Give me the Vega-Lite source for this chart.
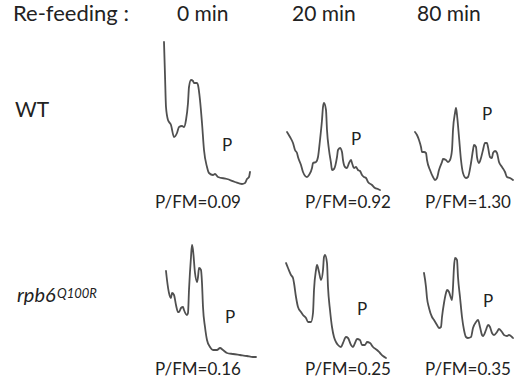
{
  "$schema": "https://vega.github.io/schema/vega-lite/v6.json",
  "autosize": {"type": "fit", "contains": "padding"},
  "width": 515,
  "height": 386,
  "padding": 0,
  "background": "white",
  "config": {"view": {"stroke": null}},
  "datasets": {
    "traces": [
      {"p":"WT0","x":164,"y":42},{"p":"WT0","x":165,"y":75},{"p":"WT0","x":166,"y":107},{"p":"WT0","x":168,"y":120},{"p":"WT0","x":171,"y":125},{"p":"WT0","x":174,"y":137},{"p":"WT0","x":177,"y":133},{"p":"WT0","x":179,"y":127},{"p":"WT0","x":182,"y":126},{"p":"WT0","x":184,"y":127},{"p":"WT0","x":186,"y":120},{"p":"WT0","x":188,"y":103},{"p":"WT0","x":189,"y":87},{"p":"WT0","x":191,"y":80},{"p":"WT0","x":193,"y":81},{"p":"WT0","x":194,"y":83},{"p":"WT0","x":197,"y":83},{"p":"WT0","x":198,"y":85},{"p":"WT0","x":200,"y":100},{"p":"WT0","x":202,"y":123},{"p":"WT0","x":204,"y":150},{"p":"WT0","x":207,"y":167},{"p":"WT0","x":209,"y":173},{"p":"WT0","x":213,"y":175},{"p":"WT0","x":215,"y":174},{"p":"WT0","x":218,"y":177},{"p":"WT0","x":227,"y":179},{"p":"WT0","x":235,"y":182},{"p":"WT0","x":242,"y":184},{"p":"WT0","x":245,"y":183},{"p":"WT0","x":247,"y":179},{"p":"WT0","x":249,"y":177},{"p":"WT0","x":250,"y":172},
      {"p":"WT20","x":287,"y":132},{"p":"WT20","x":290,"y":137},{"p":"WT20","x":293,"y":143},{"p":"WT20","x":295,"y":150},{"p":"WT20","x":297,"y":153},{"p":"WT20","x":298,"y":157},{"p":"WT20","x":301,"y":165},{"p":"WT20","x":303,"y":172},{"p":"WT20","x":307,"y":177},{"p":"WT20","x":309,"y":175},{"p":"WT20","x":312,"y":168},{"p":"WT20","x":313,"y":163},{"p":"WT20","x":316,"y":162},{"p":"WT20","x":318,"y":157},{"p":"WT20","x":320,"y":140},{"p":"WT20","x":322,"y":120},{"p":"WT20","x":323,"y":107},{"p":"WT20","x":324,"y":103},{"p":"WT20","x":326,"y":110},{"p":"WT20","x":327,"y":130},{"p":"WT20","x":329,"y":150},{"p":"WT20","x":331,"y":163},{"p":"WT20","x":332,"y":170},{"p":"WT20","x":334,"y":169},{"p":"WT20","x":337,"y":157},{"p":"WT20","x":338,"y":150},{"p":"WT20","x":340,"y":148},{"p":"WT20","x":342,"y":152},{"p":"WT20","x":343,"y":160},{"p":"WT20","x":345,"y":167},{"p":"WT20","x":347,"y":168},{"p":"WT20","x":349,"y":163},{"p":"WT20","x":351,"y":160},{"p":"WT20","x":352,"y":163},{"p":"WT20","x":354,"y":168},{"p":"WT20","x":356,"y":167},{"p":"WT20","x":358,"y":170},{"p":"WT20","x":360,"y":171},{"p":"WT20","x":362,"y":175},{"p":"WT20","x":364,"y":177},{"p":"WT20","x":366,"y":178},{"p":"WT20","x":368,"y":182},{"p":"WT20","x":372,"y":185},{"p":"WT20","x":375,"y":188},{"p":"WT20","x":378,"y":189},{"p":"WT20","x":380,"y":190},
      {"p":"WT80","x":415,"y":132},{"p":"WT80","x":417,"y":135},{"p":"WT80","x":419,"y":140},{"p":"WT80","x":421,"y":147},{"p":"WT80","x":422,"y":152},{"p":"WT80","x":424,"y":152},{"p":"WT80","x":426,"y":153},{"p":"WT80","x":427,"y":160},{"p":"WT80","x":430,"y":170},{"p":"WT80","x":433,"y":177},{"p":"WT80","x":435,"y":180},{"p":"WT80","x":437,"y":178},{"p":"WT80","x":439,"y":170},{"p":"WT80","x":442,"y":162},{"p":"WT80","x":443,"y":159},{"p":"WT80","x":446,"y":160},{"p":"WT80","x":448,"y":162},{"p":"WT80","x":450,"y":160},{"p":"WT80","x":452,"y":150},{"p":"WT80","x":453,"y":130},{"p":"WT80","x":455,"y":113},{"p":"WT80","x":456,"y":108},{"p":"WT80","x":457,"y":115},{"p":"WT80","x":459,"y":137},{"p":"WT80","x":461,"y":160},{"p":"WT80","x":463,"y":173},{"p":"WT80","x":466,"y":178},{"p":"WT80","x":468,"y":177},{"p":"WT80","x":471,"y":163},{"p":"WT80","x":473,"y":150},{"p":"WT80","x":474,"y":145},{"p":"WT80","x":476,"y":147},{"p":"WT80","x":477,"y":157},{"p":"WT80","x":479,"y":163},{"p":"WT80","x":481,"y":158},{"p":"WT80","x":483,"y":150},{"p":"WT80","x":485,"y":143},{"p":"WT80","x":487,"y":143},{"p":"WT80","x":488,"y":147},{"p":"WT80","x":490,"y":157},{"p":"WT80","x":492,"y":158},{"p":"WT80","x":493,"y":153},{"p":"WT80","x":495,"y":151},{"p":"WT80","x":497,"y":153},{"p":"WT80","x":499,"y":162},{"p":"WT80","x":502,"y":167},{"p":"WT80","x":505,"y":172},{"p":"WT80","x":507,"y":177},{"p":"WT80","x":510,"y":178},{"p":"WT80","x":513,"y":180},
      {"p":"R0","x":166,"y":271},{"p":"R0","x":167,"y":280},{"p":"R0","x":169,"y":293},{"p":"R0","x":171,"y":298},{"p":"R0","x":172,"y":293},{"p":"R0","x":174,"y":295},{"p":"R0","x":176,"y":305},{"p":"R0","x":178,"y":312},{"p":"R0","x":179,"y":312},{"p":"R0","x":181,"y":308},{"p":"R0","x":183,"y":307},{"p":"R0","x":184,"y":310},{"p":"R0","x":187,"y":315},{"p":"R0","x":188,"y":313},{"p":"R0","x":189,"y":290},{"p":"R0","x":191,"y":257},{"p":"R0","x":192,"y":245},{"p":"R0","x":193,"y":250},{"p":"R0","x":195,"y":273},{"p":"R0","x":197,"y":282},{"p":"R0","x":198,"y":277},{"p":"R0","x":199,"y":268},{"p":"R0","x":201,"y":270},{"p":"R0","x":202,"y":283},{"p":"R0","x":203,"y":307},{"p":"R0","x":205,"y":327},{"p":"R0","x":207,"y":340},{"p":"R0","x":210,"y":347},{"p":"R0","x":213,"y":350},{"p":"R0","x":217,"y":350},{"p":"R0","x":220,"y":348},{"p":"R0","x":223,"y":350},{"p":"R0","x":227,"y":353},{"p":"R0","x":233,"y":354},{"p":"R0","x":240,"y":355},{"p":"R0","x":247,"y":356},{"p":"R0","x":253,"y":357},{"p":"R0","x":256,"y":357},
      {"p":"R20","x":286,"y":263},{"p":"R20","x":288,"y":268},{"p":"R20","x":291,"y":275},{"p":"R20","x":293,"y":278},{"p":"R20","x":294,"y":283},{"p":"R20","x":296,"y":297},{"p":"R20","x":298,"y":307},{"p":"R20","x":301,"y":312},{"p":"R20","x":303,"y":315},{"p":"R20","x":306,"y":318},{"p":"R20","x":308,"y":322},{"p":"R20","x":311,"y":322},{"p":"R20","x":313,"y":313},{"p":"R20","x":314,"y":290},{"p":"R20","x":316,"y":270},{"p":"R20","x":317,"y":265},{"p":"R20","x":319,"y":272},{"p":"R20","x":321,"y":280},{"p":"R20","x":323,"y":270},{"p":"R20","x":324,"y":257},{"p":"R20","x":325,"y":255},{"p":"R20","x":327,"y":263},{"p":"R20","x":328,"y":287},{"p":"R20","x":330,"y":310},{"p":"R20","x":332,"y":327},{"p":"R20","x":334,"y":337},{"p":"R20","x":336,"y":342},{"p":"R20","x":338,"y":345},{"p":"R20","x":341,"y":347},{"p":"R20","x":343,"y":343},{"p":"R20","x":346,"y":337},{"p":"R20","x":348,"y":338},{"p":"R20","x":351,"y":345},{"p":"R20","x":353,"y":347},{"p":"R20","x":355,"y":343},{"p":"R20","x":357,"y":339},{"p":"R20","x":360,"y":340},{"p":"R20","x":362,"y":345},{"p":"R20","x":365,"y":345},{"p":"R20","x":367,"y":342},{"p":"R20","x":370,"y":343},{"p":"R20","x":373,"y":347},{"p":"R20","x":377,"y":350},{"p":"R20","x":380,"y":353},{"p":"R20","x":383,"y":356},{"p":"R20","x":386,"y":358},
      {"p":"R80","x":424,"y":273},{"p":"R80","x":426,"y":287},{"p":"R80","x":427,"y":298},{"p":"R80","x":429,"y":308},{"p":"R80","x":432,"y":317},{"p":"R80","x":434,"y":320},{"p":"R80","x":437,"y":325},{"p":"R80","x":439,"y":328},{"p":"R80","x":441,"y":327},{"p":"R80","x":442,"y":317},{"p":"R80","x":444,"y":303},{"p":"R80","x":446,"y":293},{"p":"R80","x":447,"y":290},{"p":"R80","x":449,"y":292},{"p":"R80","x":451,"y":298},{"p":"R80","x":452,"y":300},{"p":"R80","x":453,"y":287},{"p":"R80","x":454,"y":267},{"p":"R80","x":455,"y":258},{"p":"R80","x":457,"y":260},{"p":"R80","x":458,"y":277},{"p":"R80","x":460,"y":297},{"p":"R80","x":462,"y":317},{"p":"R80","x":464,"y":330},{"p":"R80","x":466,"y":337},{"p":"R80","x":468,"y":338},{"p":"R80","x":471,"y":337},{"p":"R80","x":473,"y":328},{"p":"R80","x":476,"y":322},{"p":"R80","x":478,"y":320},{"p":"R80","x":480,"y":327},{"p":"R80","x":482,"y":335},{"p":"R80","x":483,"y":336},{"p":"R80","x":486,"y":330},{"p":"R80","x":488,"y":325},{"p":"R80","x":490,"y":327},{"p":"R80","x":492,"y":333},{"p":"R80","x":494,"y":335},{"p":"R80","x":497,"y":332},{"p":"R80","x":499,"y":329},{"p":"R80","x":502,"y":332},{"p":"R80","x":504,"y":335},{"p":"R80","x":507,"y":336},{"p":"R80","x":509,"y":335},{"p":"R80","x":512,"y":337},{"p":"R80","x":513,"y":338}
    ],
    "labels": [
      {"kind":"title","x":13,"y":21,"text":"Re-feeding :"},
      {"kind":"header","x":177,"y":21,"text":"0 min"},
      {"kind":"header","x":292,"y":21,"text":"20 min"},
      {"kind":"header","x":417,"y":21,"text":"80 min"},
      {"kind":"row","x":15,"y":117,"text":"WT"},
      {"kind":"gene","x":17,"y":302,"text":"rpb6"},
      {"kind":"allele","x":57,"y":298,"text":"Q100R"},
      {"kind":"peak","x":227,"y":146,"text":"P"},
      {"kind":"peak","x":356,"y":140,"text":"P"},
      {"kind":"peak","x":487,"y":115,"text":"P"},
      {"kind":"peak","x":230,"y":318,"text":"P"},
      {"kind":"peak","x":362,"y":310,"text":"P"},
      {"kind":"peak","x":488,"y":302,"text":"P"},
      {"kind":"ratio","x":155,"y":203,"text":"P/FM=0.09"},
      {"kind":"ratio","x":305,"y":203,"text":"P/FM=0.92"},
      {"kind":"ratio","x":425,"y":203,"text":"P/FM=1.30"},
      {"kind":"ratio","x":155,"y":370,"text":"P/FM=0.16"},
      {"kind":"ratio","x":305,"y":370,"text":"P/FM=0.25"},
      {"kind":"ratio","x":425,"y":370,"text":"P/FM=0.35"}
    ]
  },
  "encoding": {
    "x": {"field": "x", "type": "quantitative", "scale": {"domain": [0, 515], "nice": false, "zero": false}, "axis": null},
    "y": {"field": "y", "type": "quantitative", "scale": {"domain": [0, 386], "nice": false, "zero": false, "reverse": true}, "axis": null}
  },
  "layer": [
    {
      "data": {"name": "traces"},
      "mark": {"type": "line", "color": "#505050", "strokeWidth": 1.8, "strokeJoin": "round", "strokeCap": "round", "interpolate": "monotone"},
      "encoding": {"detail": {"field": "p", "type": "nominal"}}
    },
    {
      "data": {"name": "labels"},
      "transform": [{"filter": "datum.kind === 'title'"}],
      "mark": {"type": "text", "font": "Lato", "fontSize": 22, "align": "left", "baseline": "alphabetic", "color": "#222"},
      "encoding": {"text": {"field": "text"}}
    },
    {
      "data": {"name": "labels"},
      "transform": [{"filter": "datum.kind === 'header' || datum.kind === 'row'"}],
      "mark": {"type": "text", "font": "Lato", "fontSize": 21, "align": "left", "baseline": "alphabetic", "color": "#222"},
      "encoding": {"text": {"field": "text"}}
    },
    {
      "data": {"name": "labels"},
      "transform": [{"filter": "datum.kind === 'gene'"}],
      "mark": {"type": "text", "font": "Lato", "fontSize": 20, "fontStyle": "italic", "align": "left", "baseline": "alphabetic", "color": "#222"},
      "encoding": {"text": {"field": "text"}}
    },
    {
      "data": {"name": "labels"},
      "transform": [{"filter": "datum.kind === 'allele'"}],
      "mark": {"type": "text", "font": "Lato", "fontSize": 13, "fontStyle": "italic", "align": "left", "baseline": "alphabetic", "color": "#222"},
      "encoding": {"text": {"field": "text"}}
    },
    {
      "data": {"name": "labels"},
      "transform": [{"filter": "datum.kind === 'peak'"}],
      "mark": {"type": "text", "font": "Lato", "fontSize": 17, "align": "center", "baseline": "middle", "color": "#222"},
      "encoding": {"text": {"field": "text"}}
    },
    {
      "data": {"name": "labels"},
      "transform": [{"filter": "datum.kind === 'ratio'"}],
      "mark": {"type": "text", "font": "Lato", "fontSize": 17, "align": "left", "baseline": "middle", "color": "#222"},
      "encoding": {"text": {"field": "text"}}
    }
  ]
}
